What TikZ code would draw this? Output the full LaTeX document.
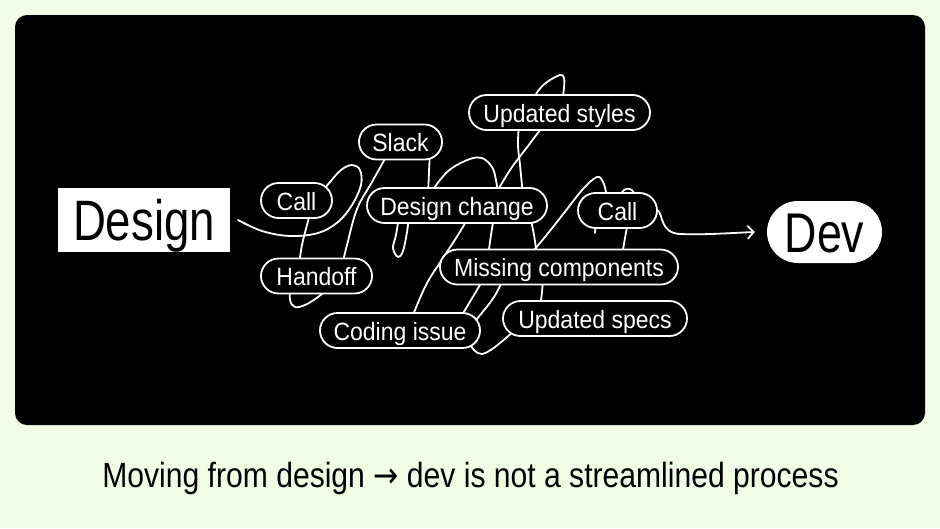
\documentclass[tikz,border=0pt]{standalone}
\usepackage{fontspec}
\setmainfont{Liberation Sans}
\newfontfamily\pillfont[FakeStretch=0.92]{Liberation Sans}
\newfontfamily\condfont[FakeStretch=0.8]{Liberation Sans}
\newfontfamily\capfont[FakeStretch=0.86]{Liberation Sans}
\newfontfamily\arrowfont[FakeStretch=0.86]{DejaVu Sans}
\usetikzlibrary{arrows.meta}
\definecolor{bgmint}{RGB}{241,252,228}
\begin{document}
\begin{tikzpicture}[x=1pt,y=-1pt,
  pill/.style={draw=white, line width=1.8pt, fill=black, rounded corners=17.5pt,
    minimum height=35pt, inner xsep=0pt, inner ysep=0pt, text=white,
    font=\pillfont\fontsize{25}{25}\selectfont, text height=22pt, text depth=3pt},
  scribble/.style={white, line width=1.8pt, line cap=round, line join=round},
  sm/.style={smooth, tension=0.6}]
\useasboundingbox (0,0) rectangle (940,528);
\fill[bgmint] (0,0) rectangle (940,528);
\fill[black, rounded corners=12pt] (15,15) rectangle (925,425);

% scribble (drawn first, pills hide its hidden parts)
\draw[scribble] plot[sm] coordinates {(238,220) (262,231) (290,236) (318,233) (338,222) (352,205) (361,185) (360,170) (352,165) (341,170) (330,182) (322,192)};
\draw[scribble] plot[sm] coordinates {(311,210) (307,225) (302,245) (299,265)};
\draw[scribble] plot[sm] coordinates {(290,286) (290,300) (295,307) (305,305) (318,297) (330,287)};
\draw[scribble] plot[sm] coordinates {(342,266) (347,245) (357,209) (372,182) (390,150)};
\draw[scribble] plot[sm] coordinates {(430,150) (429,172) (428,196)};
\draw[scribble] plot[sm] coordinates {(428,197) (440,180) (452,168) (470,159) (482,158) (492,167) (496,180) (498,196)};
\draw[scribble] plot[sm] coordinates {(494,197) (510,170) (528,146) (546,122)};
\draw[scribble] plot[sm] coordinates {(532,102) (538,91) (547,82) (560,75) (564,78) (564,88) (562,102)};
\draw[scribble] plot[sm] coordinates {(519,123) (518,145) (520,165) (523,196)};
\draw[scribble] plot[sm] coordinates {(399,216) (396,235) (393,248) (398,257) (403,251) (407,232) (409,216)};
\draw[scribble] plot[sm] coordinates {(470,215) (458,235) (443,258) (426,285) (411,320)};
\draw[scribble] plot[sm] coordinates {(494,216) (491,235) (488,256)};
\draw[scribble] plot[sm] coordinates {(530,216) (534,235) (537,256)};
\draw[scribble] plot[sm] coordinates {(528,257) (545,237) (564,213) (583,189) (597,177) (603,182) (606,192) (607,201)};
\draw[scribble] plot[sm] coordinates {(618,199) (624,190) (630,189) (634,193) (635,200)};
\draw[scribble] (596,222) -- (595,233);
\draw[scribble] plot[sm] coordinates {(628,222) (625,238) (622,256)};
\draw[scribble] plot[sm] coordinates {(484,278) (474,295) (465,310) (459,320)};
\draw[scribble] plot[sm] coordinates {(504,278) (494,297) (481,314) (471,326)};
\draw[scribble] plot[sm] coordinates {(543,278) (542,292) (540,308)};
\draw[scribble] plot[sm] coordinates {(469,342) (474,350) (482,354) (495,347) (514,331)};

% end boxes
\node[fill=white, minimum width=172pt, minimum height=64pt, inner sep=0pt, text=black,
  font=\condfont\fontsize{57}{57}\selectfont, text height=41pt, text depth=0pt] (design) at (144,220) {Design};
\node[fill=white, rounded corners=31pt, minimum width=115pt, minimum height=62pt, inner sep=0pt, text=black,
  font=\condfont\fontsize{56}{56}\selectfont, text height=40pt, text depth=0pt] (dev) at (824.5,232) {Dev};

% pills
\node[pill, minimum width=71pt]  (callL)   at (296.5,200.5) {Call};
\node[pill, minimum width=111pt] (handoff) at (316.5,276)   {Handoff};
\node[pill, minimum width=83pt]  (slack)   at (400.5,142)   {Slack};
\node[pill, minimum width=180pt] (dchange) at (457,205.5)   {Design change};
\node[pill, minimum width=181pt] (ustyles) at (559.5,112.5) {Updated styles};
\node[pill, minimum width=79pt]  (callR)   at (617.5,210.5) {Call};
\node[pill, minimum width=238pt] (missing) at (559,267)     {Missing components};
\node[pill, minimum width=160pt] (coding)  at (400,330.5)   {Coding issue};
\node[pill, minimum width=184pt] (uspecs)  at (595,318.5)   {Updated specs};

% final arrow
\draw[scribble, -{Straight Barb[length=6pt,width=13pt,line width=1.8pt]}]
  (callR.east) .. controls (663,214) and (660,233) .. (680,234)
  .. controls (705,235) and (730,233) .. ([xshift=-12pt]dev.west);

% caption
\node[anchor=base, inner sep=0pt, text=black, font=\capfont\fontsize{35}{35}\selectfont] (caption)
  at (470.5,487) {Moving from design {\arrowfont →} dev is not a streamlined process};
\end{tikzpicture}
\end{document}
